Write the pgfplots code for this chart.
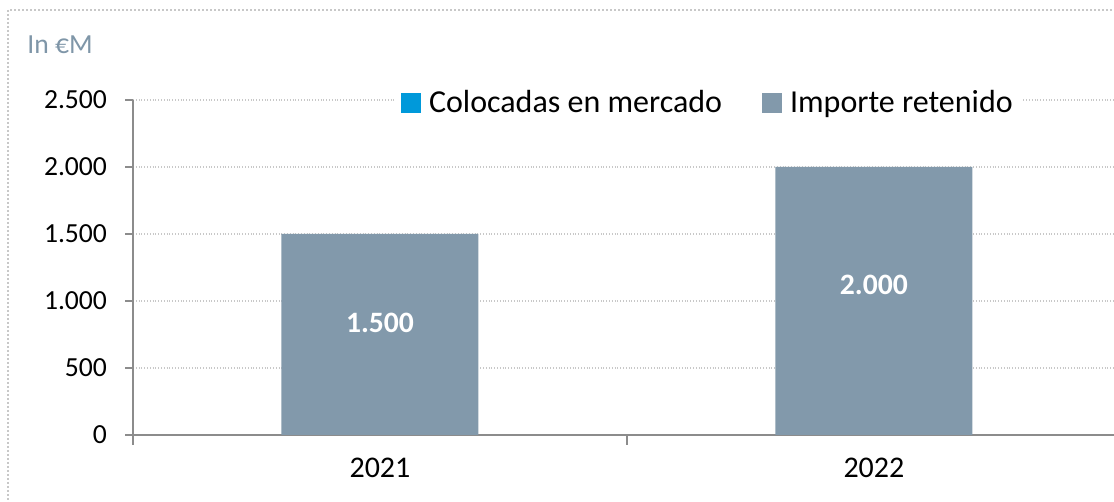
\documentclass[border=0pt]{standalone}
\usepackage{pgfplots}
\pgfplotsset{compat=1.18}
\usepackage{fontspec}
\setmainfont{Carlito}
\definecolor{barc}{HTML}{8299AB}
\definecolor{blu}{HTML}{0099DA}
\definecolor{axc}{HTML}{8C8C8C}
\definecolor{grc}{HTML}{C8C8C8}
\definecolor{ttl}{HTML}{7F96A8}
\begin{document}
\begin{tikzpicture}[x=1pt,y=1pt]
\useasboundingbox (0,0) rectangle (557,251);
\draw[grc, densely dotted, line width=1pt] (4,246) rectangle (600,-20);
\node[anchor=west, text=ttl, font=\fontsize{13.8}{15}\selectfont, inner sep=0] at (13.5,228.5) {In €M};
\begin{axis}[
  at={(66.5pt,33.5pt)}, anchor=south west,
  scale only axis, width=490.5pt, height=167.5pt,
  xmin=-0.5, xmax=1.486, ymin=0, ymax=2500,
  axis x line*=bottom, axis y line*=left,
  axis line style={axc, line width=0.8pt, -},
  ytick={0,500,1000,1500,2000,2500},
  xtick={0,1}, xticklabels={2021,2022},
  major x tick style={draw=none},
  minor xtick={-0.5,0.5,1.5},
  tick align=outside, major tick length=4pt, minor tick length=5pt,
  tick style={axc, line width=0.8pt},
  ymajorgrids, grid style={grc, densely dotted, line width=0.8pt},
  /pgf/number format/assume math mode=true,
  /pgf/number format/1000 sep={.},
  yticklabel style={font=\fontsize{13.8}{15}\selectfont, text=black, xshift=-5.5pt},
  xticklabel style={font=\fontsize{15}{17}\selectfont, text=black, yshift=-4pt},
  legend style={draw=none, fill=white, at={(0.587,0.991)}, anchor=center,
    legend columns=2, font=\fontsize{16}{18}\selectfont,
    /tikz/every odd column/.append style={column sep=2pt},
    /tikz/every even column/.append style={column sep=18pt}},
  ybar, bar width=98.5pt,
]
\addlegendimage{fill=blu, draw=none, legend image code/.code={\fill[blu] (0pt,-4.8pt) rectangle (10pt,4.8pt);}}
\addlegendentry{Colocadas en mercado}
\addplot[fill=barc, draw=none, legend image code/.code={\fill[barc] (0pt,-4.8pt) rectangle (10pt,4.8pt);}] coordinates {(0,1500) (1,2000)};
\addlegendentry{Importe retenido}
\node[text=white, font=\bfseries\fontsize{14.8}{16}\selectfont] at (axis cs:0,840) {1.500};
\node[text=white, font=\bfseries\fontsize{14.8}{16}\selectfont] at (axis cs:1,1120) {2.000};
\end{axis}
\end{tikzpicture}
\end{document}
